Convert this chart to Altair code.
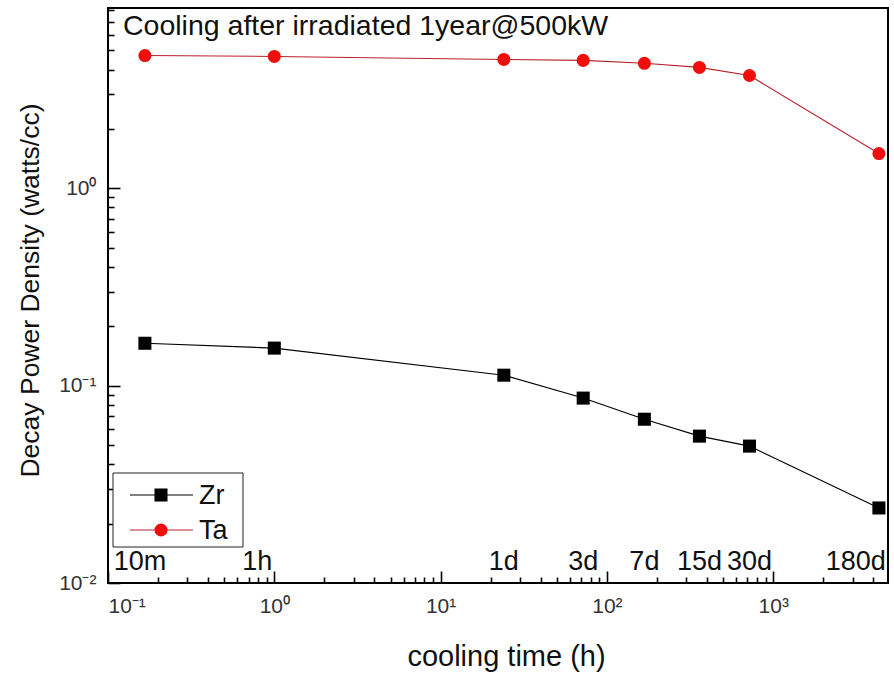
import altair as alt
import pandas as pd

# ---- data ----
times_h = [1 / 6, 1, 24, 72, 168, 360, 720, 4320]
time_labels = ["10m", "1h", "1d", "3d", "7d", "15d", "30d", "180d"]
zr_values = [0.164, 0.155, 0.113, 0.0865, 0.0676, 0.0555, 0.0494, 0.0240]
ta_values = [4.71, 4.66, 4.50, 4.45, 4.30, 4.10, 3.73, 1.50]
series_names = ["Zr", "Ta"]
title_text = "Cooling after irradiated 1year@500kW"

df = pd.DataFrame(
    {
        "time": times_h * 2,
        "value": zr_values + ta_values,
        "series": ["Zr"] * len(times_h) + ["Ta"] * len(times_h),
    }
)
lab_df = pd.DataFrame({"time": times_h, "label": time_labels})

FONT = "Liberation Sans"
W, H = 780, 575

xs = alt.Scale(type="log", domain=[0.1, 4900], nice=False)
ys = alt.Scale(type="log", domain=[0.01, 8.2], nice=False)

x_ticks = [m * 10.0 ** e for e in range(-1, 4) for m in range(1, 10) if m * 10.0 ** e <= 4900]
y_ticks = [m * 10.0 ** e for e in range(-2, 1) for m in range(1, 10) if m * 10.0 ** e <= 8.2]
major_test = "abs(log(datum.value)/LN10 - round(log(datum.value)/LN10)) < 0.001"
tick_size = {"condition": {"test": major_test, "value": 12}, "value": 6}

sup_expr = (
    "datum.value < 0.05 ? '10\u207b\u00b2' : datum.value < 0.5 ? '10\u207b\u00b9' : "
    "datum.value < 5 ? '10\u2070' : datum.value < 50 ? '10\u00b9' : "
    "datum.value < 500 ? '10\u00b2' : '10\u00b3'"
)

x_label_axis = alt.Axis(
    orient="bottom", values=[0.1, 1, 10, 100, 1000], labelExpr=sup_expr,
    ticks=False, tickSize=0, domain=False, grid=False,
    labelFont=FONT, labelFontSize=21, labelColor="#333", labelPadding=12,
    title="cooling time (h)", titleFont=FONT, titleFontSize=29, titleFontWeight="normal",
    titleColor="#111", titleX=398, titleY=82, titleAlign="center", titleBaseline="alphabetic",
    titleAnchor="start",
)
y_label_axis = alt.Axis(
    orient="left", values=[0.01, 0.1, 1], labelExpr=sup_expr,
    ticks=False, tickSize=0, domain=False, grid=False,
    labelFont=FONT, labelFontSize=21, labelColor="#333", labelPadding=12,
    title="Decay Power Density (watts/cc)", titleFont=FONT, titleFontSize=26.5,
    titleFontWeight="normal", titleColor="#111", titleX=-78, titleY=282,
    titleAlign="center", titleBaseline="middle", titleAngle=270, titleAnchor="start",
)
x_tick_axis = alt.Axis(
    orient="top", offset=-H, values=x_ticks, labels=False, domain=False, grid=False,
    tickSize=tick_size, tickColor="black", tickWidth=1.6, title=None,
)
y_tick_axis = alt.Axis(
    orient="right", offset=-W, values=y_ticks, labels=False, domain=False, grid=False,
    tickSize=tick_size, tickColor="black", tickWidth=1.6, title=None,
)

base = alt.Chart(df)

lines = base.mark_line(strokeWidth=1.1).encode(
    x=alt.X("time:Q", scale=xs, axis=x_label_axis),
    y=alt.Y("value:Q", scale=ys, axis=y_label_axis),
    stroke=alt.Stroke("series:N", scale=alt.Scale(domain=series_names, range=["#000000", "#b8202e"]), legend=None),
    detail="series:N",
)

points = base.mark_point(filled=True, size=170, opacity=1).encode(
    x=alt.X("time:Q", scale=xs, axis=x_tick_axis),
    y=alt.Y("value:Q", scale=ys, axis=y_tick_axis),
    color=alt.Color("series:N", scale=alt.Scale(domain=series_names, range=["#000000", "#f20d0d"]), legend=None),
    shape=alt.Shape("series:N", scale=alt.Scale(domain=series_names, range=["square", "circle"]), legend=None),
)

lab_base = alt.Chart(lab_df)
labels_center = lab_base.transform_filter(
    "datum.label != '1h' && datum.label != '180d' && datum.label != '10m'"
).mark_text(font=FONT, fontSize=27, color="#111", align="center", baseline="alphabetic").encode(
    x=alt.X("time:Q", scale=xs, axis=None), y=alt.value(562), text="label:N"
)
labels_10m = lab_base.transform_filter("datum.label == '10m'").mark_text(
    font=FONT, fontSize=27, color="#111", align="center", baseline="alphabetic", dx=-5
).encode(x=alt.X("time:Q", scale=xs, axis=None), y=alt.value(562), text="label:N")
labels_1h = lab_base.transform_filter("datum.label == '1h'").mark_text(
    font=FONT, fontSize=27, color="#111", align="right", baseline="alphabetic", dx=-2
).encode(x=alt.X("time:Q", scale=xs, axis=None), y=alt.value(562), text="label:N")
labels_180 = lab_base.transform_filter("datum.label == '180d'").mark_text(
    font=FONT, fontSize=27, color="#111", align="right", baseline="alphabetic", dx=7
).encode(x=alt.X("time:Q", scale=xs, axis=None), y=alt.value(562), text="label:N")

title = alt.Chart(pd.DataFrame({"t": [title_text]})).mark_text(
    font=FONT, fontSize=28.5, color="#111", align="left", baseline="alphabetic"
).encode(x=alt.value(15), y=alt.value(27), text="t:N")

# legend box
legend_box = alt.Chart(pd.DataFrame({"a": [0]})).mark_rect(
    fill="white", stroke="#222", strokeWidth=1
).encode(x=alt.value(5), x2=alt.value(135), y=alt.value(465), y2=alt.value(539))

legend_layers = []
for name, line_col, pt_col, shp, ypix in [
    ("Zr", "#000000", "#000000", "square", 487),
    ("Ta", "#b8202e", "#f20d0d", "circle", 522),
]:
    ldf = pd.DataFrame({"series": [name]})
    legend_layers.append(
        alt.Chart(ldf).mark_rule(color=line_col, strokeWidth=1.1).encode(
            x=alt.value(22), x2=alt.value(85), y=alt.value(ypix)
        )
    )
    legend_layers.append(
        alt.Chart(ldf).mark_point(filled=True, shape=shp, size=170, color=pt_col, opacity=1).encode(
            x=alt.value(53), y=alt.value(ypix)
        )
    )
    legend_layers.append(
        alt.Chart(ldf).mark_text(font=FONT, fontSize=27, color="#111", align="left", baseline="alphabetic").encode(
            x=alt.value(91), y=alt.value(ypix + 9), text="series:N"
        )
    )

chart = alt.layer(
    lines, points, labels_center, labels_10m, labels_1h, labels_180, title, legend_box, *legend_layers
).resolve_axis(x="independent", y="independent").properties(
    width=W, height=H,
    autosize=alt.AutoSizeParams(type="none"),
    padding={"left": 108, "top": 8, "right": 6, "bottom": 94},
    background="white",
).configure_view(stroke="black", strokeWidth=2)

chart.save("out.html", embed_options={"renderer": "svg", "actions": False})
